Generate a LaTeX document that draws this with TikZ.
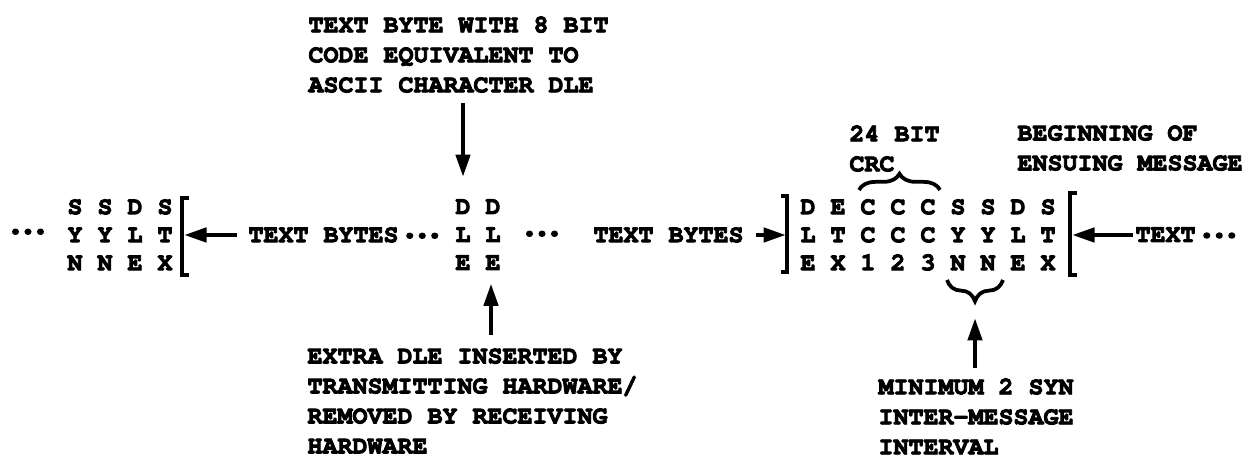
\documentclass[tikz,border=0pt]{standalone}
\usepackage{tikz}
\usetikzlibrary{arrows.meta,decorations.pathreplacing}
\newcommand{\typw}{\fontencoding{T1}\fontfamily{pcr}\fontseries{b}\selectfont\special{pdf:literal 2 Tr 0.35 w}}
\newcommand{\onedot}{\makebox[.5em]{\scalebox{1.5}{.}}}
\newcommand{\ddd}{\raisebox{.18em}{\onedot\onedot\onedot}}
\begin{document}
\begin{tikzpicture}[x=0.4pt,y=-0.4pt,font=\typw\fontsize{10}{12}\selectfont,
  >={Triangle[length=9pt,width=5.6pt]},
  note/.style={inner sep=0,align=left,anchor=north west},
  bytes/.style={inner sep=0,align=center,font=\typw\fontsize{10}{11.2}\selectfont},
  arr/.style={->,line width=1.8pt},
  bracket/.style={line width=1.5pt},
  brace/.style={line width=1.5pt,decorate,decoration={brace,amplitude=#1}}]
  \useasboundingbox (0,0) rectangle (1244,458);
  % the byte columns
  \node[bytes] (old) at (120,235) {S S D S\\Y Y L T\\N N E X};
  \node[bytes] (dle) at (478,235) {D D\\L L\\E E};
  \node[bytes] (tail) at (928,235) {D E C C C S S D S\\L T C C C Y Y L T\\E X 1 2 3 N N E X};
  \node[inner sep=0] (dotsA) at (28,233) {\ddd};
  \node[inner sep=0,anchor=west] (txtL) at (248,235) {TEXT BYTES\kern.2em\ddd};
  \node[inner sep=0] (dotsB) at (542,235) {\ddd};
  \node[inner sep=0,anchor=west] (txtM) at (593,235) {TEXT BYTES};
  \node[inner sep=0,anchor=west] (txtR) at (1135,235) {TEXT\kern.2em\ddd};
  % brackets round the frames
  \draw[bracket] (189,198) -- (182,198) -- (182,275) -- (189,275);
  \draw[bracket] (781,196) -- (787,196) -- (787,272) -- (781,272);
  \draw[bracket] (1077,193) -- (1070,193) -- (1070,275) -- (1077,275);
  \coordinate (brL) at (184,235);
  \coordinate (brM) at (786,235);
  \coordinate (brR) at (1072,235);
  \draw[arr] ([xshift=-4.4pt]txtL.west) -- (brL);
  \draw[arr] ([xshift=4.8pt]txtM.east) -- (brM);
  \draw[arr] ([xshift=-1pt]txtR.west) -- (brR);
  % notes
  \node[note] (top) at (308,16) {TEXT BYTE WITH 8 BIT\\CODE EQUIVALENT TO\\ASCII CHARACTER DLE};
  \node[note] (extra) at (307,348) {EXTRA DLE INSERTED BY\\TRANSMITTING HARDWARE/\\REMOVED BY RECEIVING\\HARDWARE};
  \node[note] (crc) at (849,125) {24 BIT\\CRC};
  \node[note] (begin) at (1017,125) {BEGINNING OF\\ENSUING MESSAGE};
  \node[note] (syn) at (878,378) {MINIMUM 2 SYN\\INTER-MESSAGE\\INTERVAL};
  \coordinate (dleA) at (463,0);
  \coordinate (dleB) at (491,0);
  \draw[arr] ([yshift=-4pt]top.south -| dleA) -- ([yshift=9pt]dle.north -| dleA);
  \draw[arr] ([yshift=5.2pt]extra.north -| dleB) -- ([yshift=-5.2pt]dle.south -| dleB);
  % braces
  \draw[brace=6.5pt] (859,190) -- (940,190);
  \draw[brace=8.5pt] (1003,280) -- (947,280);
  \coordinate (synTip) at (975,302);
  \draw[arr] ([yshift=4pt]syn.north -| synTip) -- ([yshift=-6.4pt]synTip);
\end{tikzpicture}
\end{document}
